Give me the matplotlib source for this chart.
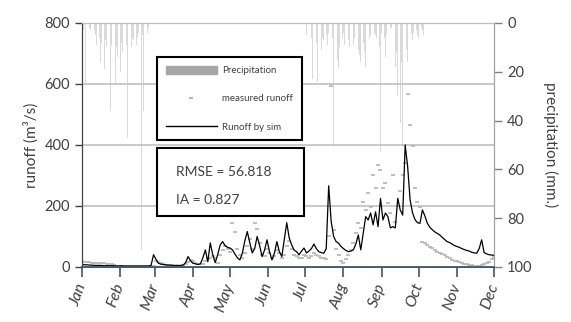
import matplotlib.pyplot as plt
from matplotlib.patches import Patch, Rectangle
from matplotlib.lines import Line2D
import numpy as np

plt.rcParams['font.family'] = ['Lato', 'DejaVu Sans']
txt = "#404040"

# day of year (from 1 Jan), every 2nd day
days = np.arange(0, 335, 2)

# simulated runoff (m3/s)
sim_q = [8, 7, 7, 6, 6, 5, 5, 5, 5, 4, 4, 4, 4, 4, 3, 3, 4, 3, 3, 3,
         3, 3, 3, 3, 3, 3, 3, 3, 5, 40, 25, 12, 9, 8, 7, 6, 6, 5, 5, 5,
         5, 6, 14, 34, 20, 12, 10, 8, 10, 30, 56, 17, 79, 40, 14, 40, 72, 83, 70, 64,
         62, 56, 42, 30, 23, 45, 85, 116, 80, 46, 60, 100, 70, 34, 55, 89, 50, 23, 45, 83,
         50, 34, 90, 145, 95, 72, 55, 50, 40, 52, 62, 46, 52, 60, 75, 60, 50, 47, 45, 60,
         266, 150, 100, 83, 78, 67, 60, 54, 50, 52, 56, 75, 105, 56, 110, 165, 154, 177, 138, 181,
         132, 225, 154, 177, 165, 128, 132, 128, 225, 187, 170, 400, 330, 220, 177, 155, 145, 143, 187, 167,
         143, 130, 122, 115, 110, 105, 97, 90, 83, 80, 75, 70, 67, 64, 60, 57, 54, 52, 48, 46,
         45, 60, 89, 47, 43, 40, 39, 38]

# measured runoff (m3/s)
meas_q = [18, 17, 16, 15, 14, 14, 13, 12, 12, 12, 11, 10, 8, 6, 4, 3, 3, 3, 3, 3,
          2, 2, 2, 2, 2, 2, 2, 2, 3, 3, 20, 17, 12, 8, 6, 5, 5, 4, 4, 4,
          4, 5, 8, 15, 23, 18, 12, 9, 8, 10, 20, 25, 30, 35, 30, 14, 40, 55, 70, 60,
          50, 143, 116, 60, 40, 30, 45, 70, 90, 60, 144, 125, 80, 40, 35, 60, 45, 30, 35, 55,
          45, 30, 40, 70, 85, 60, 40, 35, 30, 30, 40, 35, 30, 35, 45, 40, 35, 30, 28, 25,
          100, 593, 120, 60, 40, 20, 13, 25, 40, 56, 78, 110, 144, 128, 214, 187, 243, 198, 302, 259,
          335, 318, 258, 275, 209, 177, 302, 149, 200, 250, 300, 340, 568, 466, 398, 258, 214, 198, 83, 80,
          72, 67, 62, 56, 50, 46, 42, 38, 33, 28, 24, 21, 19, 16, 13, 11, 9, 7, 5, 4,
          3, 4, 5, 8, 12, 17, 25, 34]

# precipitation (mm), days with rain
rain_day = list(range(1, 55)) + [176, 182, 186] + list(range(187, 280))
rain_mm = [3, 0, 25, 4, 6, 2, 3, 0, 7, 3, 5, 9, 4, 6, 16, 8, 5, 19, 7, 10,
           12, 6, 36, 9, 12, 26, 25, 10, 14, 41, 20, 8, 12, 19, 11, 9, 47, 13, 15, 10,
           6, 7, 5, 9, 6, 4, 3, 93, 5, 36, 3, 2, 4, 2,
           12, 5, 6,
           23, 10, 15, 8, 24, 18, 9, 11, 6, 7, 14, 5, 9, 4, 7, 12, 6, 51, 8, 11,
           15, 19, 10, 15, 6, 4, 9, 21, 12, 7, 10, 5, 14, 9, 6, 30, 8, 11, 13, 16,
           7, 8, 12, 18, 9, 11, 6, 5, 8, 3, 4, 5, 6, 3, 10, 53, 4, 8, 6, 14,
           5, 7, 3, 2, 2, 1, 2, 18, 12, 30, 20, 41, 16, 51, 14, 25, 11, 16, 8, 12,
           4, 7, 4, 10, 3, 5, 6, 4, 2, 3, 5, 2, 58]

months = ["Jan", "Feb", "Mar", "Apr", "May", "Jun", "Jul", "Aug", "Sep", "Oct", "Nov", "Dec"]
month_start = [0, 31, 59, 90, 120, 151, 181, 212, 243, 273, 304, 334]

fig = plt.figure(figsize=(5.71, 3.22), dpi=100)
ax = fig.add_axes([0.1436, 0.171, 0.7215, 0.7576])
ax2 = ax.twinx()

ax2.bar(rain_day, rain_mm, width=0.5, color="#dadada", linewidth=0)
ax2.set_ylim(100, 0)
ax2.set_yticks(np.arange(0, 101, 20))
ax2.set_ylabel("precipitation (mm.)", rotation=270, labelpad=18, fontsize=11, color=txt)
ax2.tick_params(axis="y", colors="#808080", labelcolor=txt, labelsize=10.5, length=6, width=1)

ax.set_zorder(ax2.get_zorder() + 1)
ax.patch.set_visible(False)

ax.plot(days, meas_q, ls="none", marker="_", ms=3, mew=1.2, color="#b4b4b4")
ax.plot(days, sim_q, color="black", lw=0.9)

ax.set_xlim(0, 334)
ax.set_ylim(0, 800)
ax.set_yticks(np.arange(0, 801, 200))
ax.yaxis.grid(True, color="#c0c0c0", lw=1.2)
ax.set_axisbelow(True)
ax.set_ylabel("runoff (m³/s)", fontsize=11, color=txt, labelpad=4)
ax.tick_params(axis="y", colors="#404040", labelcolor=txt, labelsize=10.5, length=5, width=1)

ax.set_xticks(month_start)
ax.set_xticklabels(months, rotation=70, ha="right", va="center", rotation_mode="anchor",
                   fontsize=11.5, style="italic", color=txt)
ax.tick_params(axis="x", colors="#44546a", labelcolor=txt, length=7, width=1.2, pad=5)

for a in (ax, ax2):
    a.spines["top"].set_color("#c0c0c0")
    a.spines["left"].set_color("#404040")
    a.spines["right"].set_color("#a0a0a0")
    a.spines["bottom"].set_color("#44546a")
    a.spines["bottom"].set_linewidth(1.2)

handles = [Patch(color="#a6a6a6"),
           Line2D([], [], ls="none", marker="_", ms=3, mew=1.2, color="#a6a6a6"),
           Line2D([], [], color="black", lw=1)]
leg = ax.legend(handles, ["Precipitation", "measured runoff", "Runoff by sim"],
                loc="upper left", bbox_to_anchor=(0.182, 0.861), borderaxespad=0,
                fontsize=7, handlelength=5.3, handleheight=1.0, handletextpad=0.5,
                labelspacing=1.9, borderpad=0.9, fancybox=False, framealpha=1,
                edgecolor="black")
leg.get_frame().set_linewidth(1.5)
for t in leg.get_texts():
    t.set_color(txt)

ax.add_patch(Rectangle((0.182, 0.209), 0.357, 0.279, transform=ax.transAxes,
                       facecolor="white", edgecolor="black", lw=1.5, zorder=5))
ax.text(0.228, 0.389, "RMSE = 56.818", transform=ax.transAxes, fontsize=10,
        color=txt, va="center", zorder=6)
ax.text(0.228, 0.275, "IA = 0.827", transform=ax.transAxes, fontsize=10,
        color=txt, va="center", zorder=6)

plt.savefig("out.png", dpi=100)
